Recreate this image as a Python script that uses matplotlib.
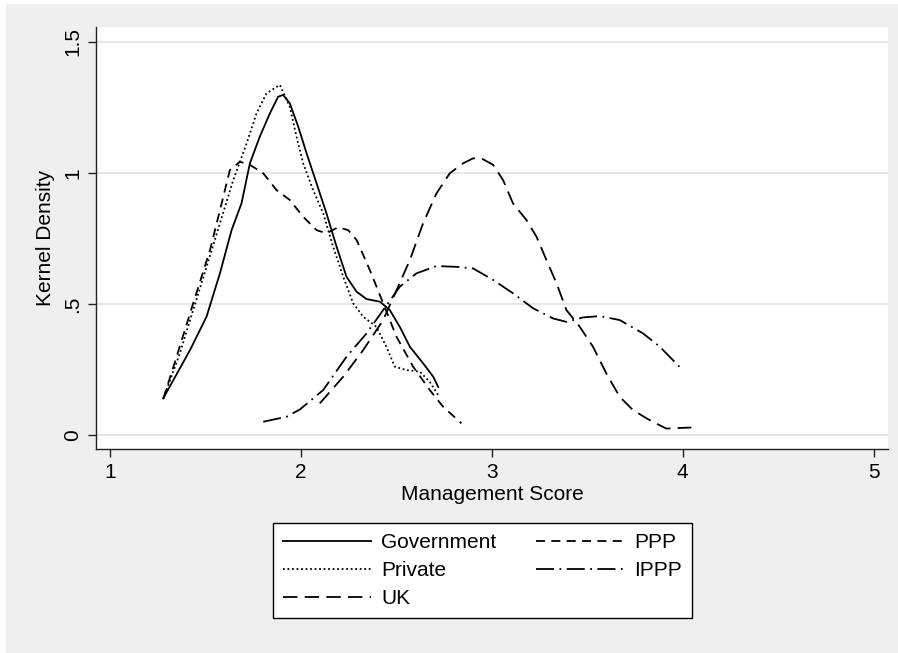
import matplotlib.pyplot as plt
from matplotlib.patches import Rectangle

plt.rcParams['font.family'] = ['Liberation Sans', 'DejaVu Sans']

# kernel density curves
gov_x = [1.279, 1.419, 1.506, 1.576, 1.637, 1.689, 1.733, 1.785, 1.838, 1.881, 1.907, 1.942,
         1.986, 2.030, 2.082, 2.134, 2.187, 2.239, 2.292, 2.344, 2.414, 2.466, 2.518, 2.571,
         2.640, 2.693, 2.719]
gov_y = [0.140, 0.324, 0.452, 0.617, 0.782, 0.884, 1.037, 1.139, 1.228, 1.291, 1.298, 1.266,
         1.177, 1.075, 0.961, 0.846, 0.719, 0.604, 0.547, 0.519, 0.509, 0.477, 0.413, 0.337,
         0.274, 0.223, 0.184]

priv_x = [1.280, 1.366, 1.436, 1.506, 1.576, 1.646, 1.716, 1.768, 1.820, 1.890, 1.942, 1.977,
          2.012, 2.064, 2.117, 2.169, 2.222, 2.274, 2.326, 2.396, 2.448, 2.492, 2.553, 2.623,
          2.675, 2.719]
priv_y = [0.140, 0.312, 0.477, 0.642, 0.808, 0.973, 1.113, 1.228, 1.304, 1.336, 1.253, 1.139,
          1.037, 0.935, 0.846, 0.719, 0.604, 0.503, 0.452, 0.413, 0.337, 0.261, 0.248, 0.242,
          0.203, 0.153]

uk_x = [2.099, 2.222, 2.326, 2.431, 2.501, 2.571, 2.640, 2.710, 2.780, 2.850, 2.902, 2.945,
        3.007, 3.059, 3.111, 3.181, 3.234, 3.286, 3.339, 3.391, 3.461, 3.530, 3.600, 3.670,
        3.740, 3.827, 3.914, 4.045]
uk_y = [0.121, 0.223, 0.324, 0.439, 0.553, 0.668, 0.808, 0.922, 0.999, 1.037, 1.056, 1.056,
        1.031, 0.973, 0.884, 0.821, 0.757, 0.668, 0.579, 0.477, 0.413, 0.337, 0.235, 0.146,
        0.095, 0.057, 0.025, 0.029]

ppp_x = [1.280, 1.349, 1.436, 1.524, 1.585, 1.628, 1.681, 1.733, 1.803, 1.872, 1.942, 2.012,
         2.082, 2.134, 2.195, 2.248, 2.292, 2.361, 2.431, 2.501, 2.588, 2.675, 2.745, 2.841]
ppp_y = [0.140, 0.299, 0.503, 0.706, 0.884, 1.011, 1.043, 1.031, 0.999, 0.935, 0.897, 0.833,
         0.782, 0.770, 0.793, 0.782, 0.744, 0.630, 0.503, 0.375, 0.261, 0.172, 0.108, 0.045]

ippp_x = [1.803, 1.925, 1.995, 2.117, 2.239, 2.344, 2.431, 2.518, 2.605, 2.710, 2.815, 2.902,
          3.007, 3.111, 3.216, 3.321, 3.391, 3.478, 3.565, 3.670, 3.792, 3.880, 3.992]
ippp_y = [0.051, 0.070, 0.098, 0.172, 0.299, 0.388, 0.477, 0.566, 0.617, 0.645, 0.642, 0.636,
          0.592, 0.541, 0.484, 0.445, 0.432, 0.449, 0.454, 0.439, 0.388, 0.337, 0.254]

fig = plt.figure(figsize=(8.98, 6.53), dpi=100, facecolor='white')
# grey Stata-style background with a thin white edge at top/left
fig.patches.append(Rectangle((6/898, 0), 1, 1 - 4/653, transform=fig.transFigure,
                             facecolor='#efefef', edgecolor='none', zorder=-10))

ax = fig.add_axes([96/898, 1 - 449/653, 792/898, 422/653])
ax.set_facecolor('white')

lw = 1.3
ax.plot(gov_x, gov_y, color='black', lw=lw, ls='-', label='Government')
ax.plot(priv_x, priv_y, color='black', lw=lw, ls=(0, (1, 1.5)), label='Private')
ax.plot(uk_x, uk_y, color='black', lw=lw, ls=(0, (8, 4)), label='UK')
ax.plot(ppp_x, ppp_y, color='black', lw=lw, ls=(0, (5, 3.5)), label='PPP')
ax.plot(ippp_x, ippp_y, color='black', lw=lw, ls=(0, (10, 3, 1, 3)), label='IPPP')

ax.set_xlim(0.927, 5.075)
ax.set_ylim(-0.053, 1.557)
ax.set_xticks([1, 2, 3, 4, 5])
ax.set_xticklabels(['1', '2', '3', '4', '5'])
ax.set_yticks([0, 0.5, 1, 1.5])
ax.set_yticklabels(['0', '.5', '1', '1.5'], rotation=90, va='center')
ax.grid(axis='y', color='#e6e6e6', lw=1.4)
ax.set_axisbelow(True)

for s in ['top', 'right']:
    ax.spines[s].set_visible(False)
for s in ['left', 'bottom']:
    ax.spines[s].set_color('#222222')
    ax.spines[s].set_linewidth(1.0)
ax.tick_params(length=6, width=1, color='#222222', labelsize=15, pad=4)

ax.set_xlabel('Management Score', fontsize=15, labelpad=2)
ax.set_ylabel('Kernel Density', fontsize=15, labelpad=6)

leg = fig.legend(loc='upper left', bbox_to_anchor=(273/898, 1 - 523/653), ncol=2,
                 fontsize=15, frameon=True, fancybox=False, edgecolor='black',
                 facecolor='white', framealpha=1, borderaxespad=0,
                 handlelength=4.2, handletextpad=0.5, columnspacing=1.9,
                 labelspacing=0.42, borderpad=0.5)
leg.get_frame().set_linewidth(1.0)

plt.savefig('out.png', dpi=100, facecolor=fig.get_facecolor())
